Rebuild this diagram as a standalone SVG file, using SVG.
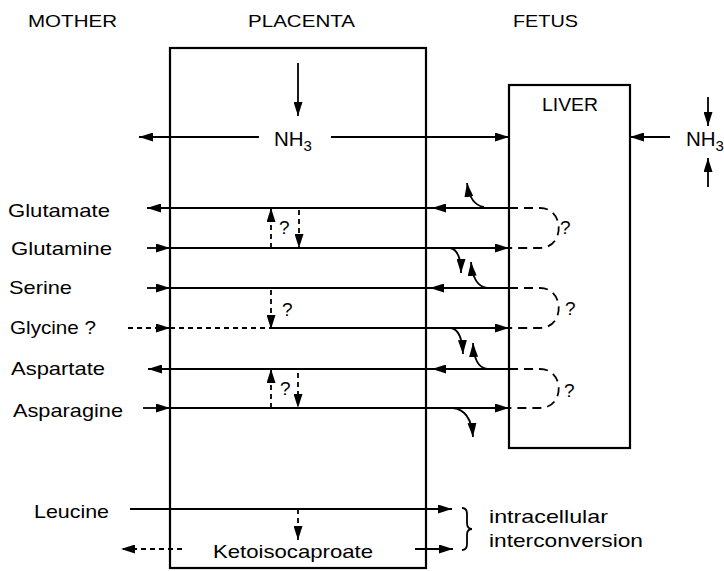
<svg xmlns="http://www.w3.org/2000/svg" width="724" height="571" viewBox="0 0 724 571">
<defs>
<marker id="ah" markerWidth="14" markerHeight="9" refX="14" refY="4.5" orient="auto" markerUnits="userSpaceOnUse"><path d="M0,0 L14,4.5 L0,9 z" fill="#000"/></marker>
<style>
text{font-family:"Liberation Sans",Arial,sans-serif;fill:#000;}
.hdr{font-size:17px;}
.lbl{font-size:18.5px;}
.q{font-size:19px;}
.box{fill:none;stroke:#000;stroke-width:2.2;}
.ln{fill:none;stroke:#000;stroke-width:1.8;}
.ar{fill:none;stroke:#000;stroke-width:1.8;marker-end:url(#ah);}
.da{stroke-dasharray:5 4;}
.loop{fill:none;stroke:#000;stroke-width:1.8;stroke-dasharray:9 6;}
</style>
</defs>
<rect width="724" height="571" fill="#fff"/>
<g id="headers">
<text class="hdr" x="28" y="27" textLength="89" lengthAdjust="spacingAndGlyphs">MOTHER</text>
<text class="hdr" x="248" y="27" textLength="107" lengthAdjust="spacingAndGlyphs">PLACENTA</text>
<text class="hdr" x="513" y="27" textLength="65" lengthAdjust="spacingAndGlyphs">FETUS</text>
</g>
<g id="placenta"><rect class="box" x="170" y="48" width="256" height="520"/></g>
<g id="liver"><rect class="box" x="509" y="85" width="121" height="363"/>
<text class="lbl" x="542" y="111" textLength="56" lengthAdjust="spacingAndGlyphs">LIVER</text></g>
<g id="nh3-placenta"><text x="274" y="146" font-size="20.5">NH<tspan font-size="15" dy="5">3</tspan></text></g>
<g id="nh3-fetus"><text x="686" y="146" font-size="20.5">NH<tspan font-size="15" dy="5">3</tspan></text></g>
<g id="labels">
<text class="lbl" x="8" y="217" textLength="102" lengthAdjust="spacingAndGlyphs">Glutamate</text>
<text class="lbl" x="11" y="255" textLength="101" lengthAdjust="spacingAndGlyphs">Glutamine</text>
<text class="lbl" x="9" y="294" textLength="63" lengthAdjust="spacingAndGlyphs">Serine</text>
<text class="lbl" x="10" y="334" textLength="86" lengthAdjust="spacingAndGlyphs">Glycine ?</text>
<text class="lbl" x="11" y="375" textLength="94" lengthAdjust="spacingAndGlyphs">Aspartate</text>
<text class="lbl" x="13" y="417" textLength="110" lengthAdjust="spacingAndGlyphs">Asparagine</text>
<text class="lbl" x="34" y="518" textLength="75" lengthAdjust="spacingAndGlyphs">Leucine</text>
<text class="lbl" x="213" y="558" textLength="160" lengthAdjust="spacingAndGlyphs">Ketoisocaproate</text>
<text class="lbl" x="489" y="523" textLength="119" lengthAdjust="spacingAndGlyphs">intracellular</text>
<text class="lbl" x="489" y="547" textLength="154" lengthAdjust="spacingAndGlyphs">interconversion</text>
</g>
<g id="question-marks">
<text class="q" x="279" y="234">?</text>
<text class="q" x="282" y="316">?</text>
<text class="q" x="280" y="395">?</text>
<text class="q" x="560" y="234">?</text>
<text class="q" x="565" y="315">?</text>
<text class="q" x="564" y="397">?</text>
</g>
<g id="connectors">
<path class="ar" d="M298,63 V116"/>
<path class="ar" d="M259,137 H139"/>
<path class="ar" d="M331,137 H509"/>
<path class="ar" d="M670,137 H630"/>
<path class="ar" d="M708,97 V126"/>
<path class="ar" d="M708,187 V158"/>
<path class="ar" d="M509,208 H432"/>
<path class="ar" d="M432,208 H147"/>
<path class="ar" d="M484,207 Q470,205 467,183"/>
<path class="ar" d="M147,248 H170"/>
<path class="ar" d="M170,248 H509"/>
<path class="ar" d="M450,248 Q461,250 461,273"/>
<path class="ar da" d="M271,248 V208"/>
<path class="ar da" d="M299,210 V248"/>
<path class="loop" d="M509,208 H540 C565,208 565,248 540,248 H509"/>
<path class="ar" d="M147,288 H170"/>
<path class="ln" d="M170,288 H432"/>
<path class="ar" d="M509,288 H430"/>
<path class="ar" d="M487,288 Q473,286 471,262"/>
<path class="ar da" d="M271,290 V329"/>
<path class="ar da" d="M128,328 H170"/>
<path class="ln da" d="M170,328 H271"/>
<path class="ar" d="M271,328 H509"/>
<path class="ar" d="M451,328 Q462,330 463,354"/>
<path class="loop" d="M509,288 H540 C565,288 565,328 540,328 H509"/>
<path class="ar" d="M509,369 H432"/>
<path class="ar" d="M432,369 H148"/>
<path class="ar" d="M487,369 Q474,367 473,343"/>
<path class="ar" d="M143,408 H170"/>
<path class="ar" d="M170,408 H509"/>
<path class="ar" d="M453,408 Q471,410 473,437"/>
<path class="ar da" d="M271,408 V369"/>
<path class="ar da" d="M298,373 V408"/>
<path class="loop" d="M509,369 H540 C565,369 565,408 540,408 H509"/>
<path class="ar" d="M130,509 H452"/>
<path class="ar da" d="M298,509 V540"/>
<path class="ar da" d="M182,549 H121"/>
<path class="ar" d="M415,549 H453"/>
<path class="ln" stroke-width="1.5" d="M462,508 Q467,508 467,514 V523 Q467,529 472,529 Q467,529 467,535 V544 Q467,550 462,550"/>
</g>
</svg>
